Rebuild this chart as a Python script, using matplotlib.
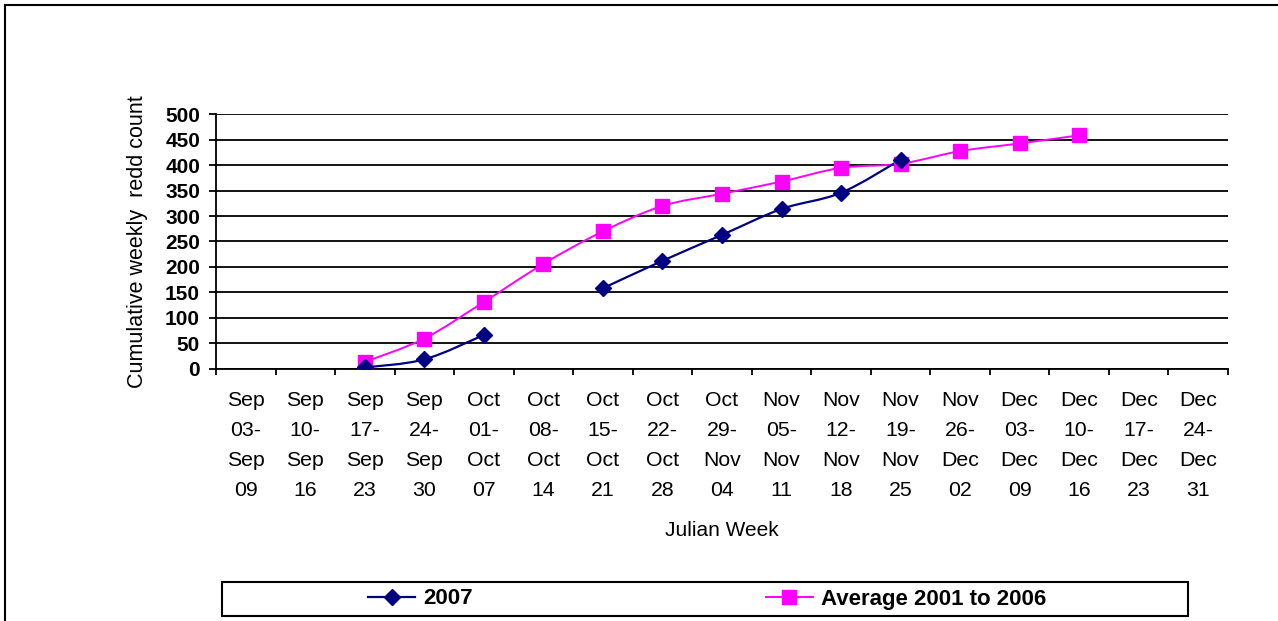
import matplotlib
matplotlib.use("Agg")
import matplotlib.pyplot as plt
import numpy as np
from matplotlib.path import Path
from matplotlib.patches import PathPatch, Rectangle
from matplotlib.lines import Line2D

plt.rcParams['font.family'] = ['Liberation Sans', 'DejaVu Sans']

WEEKS = ["Sep\n03-\nSep\n09", "Sep\n10-\nSep\n16", "Sep\n17-\nSep\n23",
         "Sep\n24-\nSep\n30", "Oct\n01-\nOct\n07", "Oct\n08-\nOct\n14",
         "Oct\n15-\nOct\n21", "Oct\n22-\nOct\n28", "Oct\n29-\nNov\n04",
         "Nov\n05-\nNov\n11", "Nov\n12-\nNov\n18", "Nov\n19-\nNov\n25",
         "Nov\n26-\nDec\n02", "Dec\n03-\nDec\n09", "Dec\n10-\nDec\n16",
         "Dec\n17-\nDec\n23", "Dec\n24-\nDec\n31"]

nan = np.nan
counts_2007 = [nan, nan, 2, 18, 66, nan, 158, 212, 263, 314, 346, 411,
               nan, nan, nan, nan, nan]
average_01_06 = [nan, nan, 13, 59, 131, 206, 270, 320, 344, 368, 395, 403,
                 428, 443, 459, nan, nan]

NAVY = "#000080"
MAGENTA = "#ff00ff"


def smooth_path(xs, ys):
    """Excel style smoothed line, one bezier per segment, breaks at gaps."""
    verts, codes = [], []
    run = []
    for x, y in list(zip(xs, ys)) + [(None, nan)]:
        if y is not None and not np.isnan(y):
            run.append((x, y))
            continue
        if len(run) > 1:
            pts = np.array(run, dtype=float)
            verts.append(pts[0])
            codes.append(Path.MOVETO)
            for i in range(len(pts) - 1):
                p0 = pts[i - 1] if i > 0 else pts[i]
                p1, p2 = pts[i], pts[i + 1]
                p3 = pts[i + 2] if i + 2 < len(pts) else pts[i + 1]
                verts += [p1 + (p2 - p0) / 6.0, p2 - (p3 - p1) / 6.0, p2]
                codes += [Path.CURVE4] * 3
        run = []
    return Path(verts, codes)


fig = plt.figure(figsize=(12.78, 6.21), dpi=100)
ax = fig.add_axes([216 / 1278, 1 - 368.5 / 621, 1012 / 1278, 254 / 621])

x = np.arange(len(WEEKS))

ax.add_patch(PathPatch(smooth_path(x, average_01_06), fill=False,
                       edgecolor=MAGENTA, lw=1.4, zorder=3))
ax.add_patch(PathPatch(smooth_path(x, counts_2007), fill=False,
                       edgecolor=NAVY, lw=1.6, zorder=4))
ax.plot(x, average_01_06, ls="none", marker="s", ms=9.5, color=MAGENTA,
        zorder=5)
ax.plot(x, counts_2007, ls="none", marker="D", ms=8, color=NAVY, zorder=6)

ax.set_xlim(-0.5, len(WEEKS) - 0.5)
ax.set_ylim(0, 500)
ax.set_yticks(np.arange(0, 501, 50))
ax.set_xticks(x)
ax.set_xticklabels(WEEKS, linespacing=1.73)
ax.set_xticks(np.arange(-0.5, len(WEEKS), 1), minor=True)
ax.tick_params(axis="x", which="major", length=0, pad=16.5, labelsize=15.3)
ax.tick_params(axis="x", which="minor", length=4.5, width=1.3,
               direction="out")
ax.tick_params(axis="y", length=5, width=1.3, pad=6.5, labelsize=15)
for lab in ax.get_yticklabels():
    lab.set_fontweight("bold")

ax.grid(True, axis="y", color="black", lw=1.3)
ax.set_axisbelow(True)
for side in ("top", "right"):
    ax.spines[side].set_visible(False)
for side in ("left", "bottom"):
    ax.spines[side].set_linewidth(1.3)

ax.set_ylabel("Cumulative weekly  redd count", fontsize=15.5, labelpad=12)
fig.text(722 / 1278, 1 - 531 / 621, "Julian Week", fontsize=15,
         ha="center", va="center")

# legend box
fig.patches.append(Rectangle((222 / 1278, 1 - 616 / 621), 966 / 1278,
                             34 / 621, transform=fig.transFigure,
                             facecolor="white", edgecolor="black", lw=1.5))
handles = [Line2D([], [], color=NAVY, lw=1.6, marker="D", ms=8),
           Line2D([], [], color=MAGENTA, lw=1.4, marker="s", ms=9.5)]
fig.legend(handles, ["2007", "Average 2001 to 2006"], ncol=2,
           loc="center", bbox_to_anchor=(707 / 1278, 1 - 599 / 621),
           frameon=False, prop={"weight": "bold", "size": 16},
           handlelength=2.1, handletextpad=0.36, columnspacing=13.2)

# outer border (top and left visible)
fig.add_artist(Line2D([4.5 / 1278, 1], [1 - 4.5 / 621] * 2,
                      transform=fig.transFigure, color="black", lw=1.5))
fig.add_artist(Line2D([4.5 / 1278] * 2, [0, 1 - 4.5 / 621],
                      transform=fig.transFigure, color="black", lw=1.5))

fig.savefig("out.png", dpi=100, facecolor="white")
